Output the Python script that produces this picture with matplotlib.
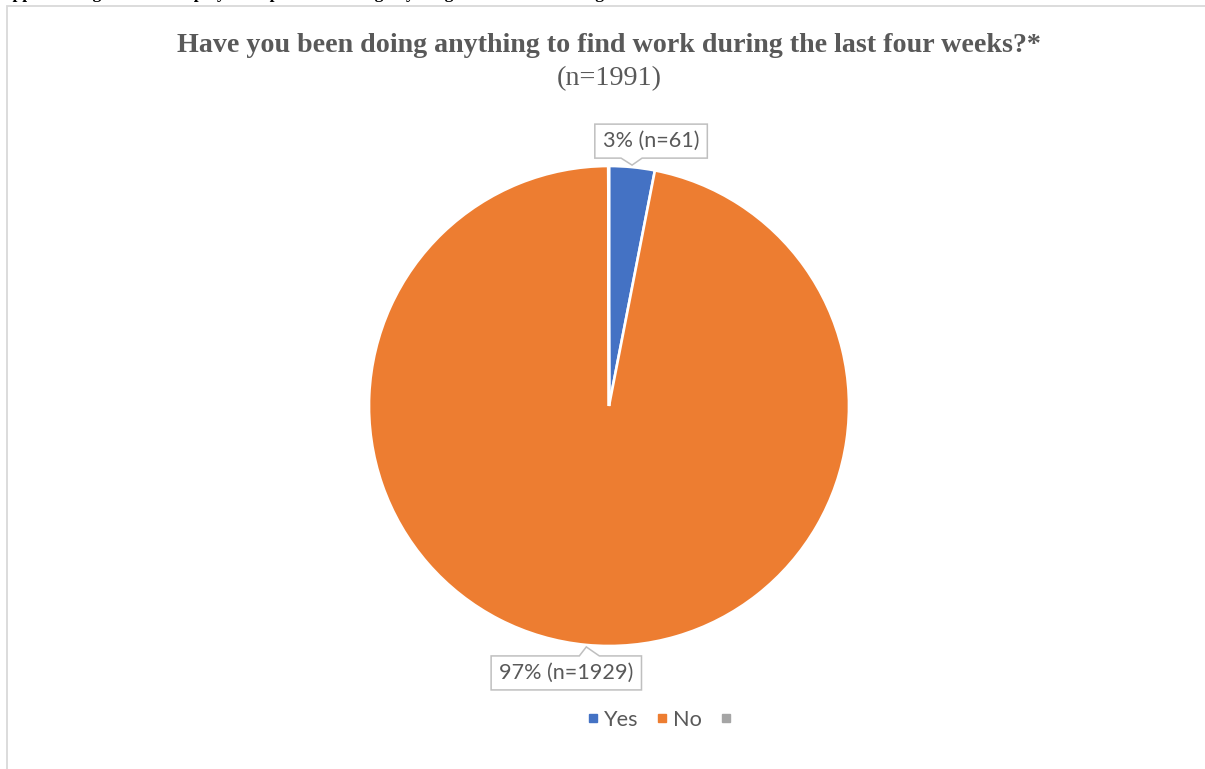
import numpy as np
import matplotlib
matplotlib.use("Agg")
import matplotlib.pyplot as plt
from matplotlib.patches import Polygon, Rectangle
from matplotlib.lines import Line2D

# survey responses
categories = ["Yes", "No", ""]
counts = [61, 1929, 1]
colors = ["#4472C4", "#ED7D31", "#A5A5A5"]
title = "Have you been doing anything to find work during the last four weeks?*"
subtitle = "(n=1991)"
header = "Appendix Figure 5: Unemployed respondents doing anything to find work during the last four weeks"

W, H = 1205, 769
fig = plt.figure(figsize=(W / 100, H / 100), dpi=100)
fig.patch.set_facecolor("white")
ax = fig.add_axes([0, 0, 1, 1])

cx, cy, R = 609, H - 406, 240
total = sum(counts)
wedges, _ = ax.pie(counts, colors=colors, startangle=90, counterclock=False,
                   center=(cx, cy), radius=R, frame=True,
                   wedgeprops=dict(edgecolor="white", linewidth=1.9))
ax.set_xlim(0, W)
ax.set_ylim(0, H)
ax.set_aspect("equal")
ax.axis("off")

# chart frame
ax.add_patch(Rectangle((7, -20), W + 20, H - 6 + 20, fill=False,
                       edgecolor="#D9D9D9", linewidth=1.3, zorder=0))

# heading of the page, cropped by the top edge
ax.text(0, H + 2.5, header, family="Liberation Serif", fontweight="bold",
        fontsize=12.5, color="black", ha="left", va="baseline", clip_on=False)

ax.text(cx, H - 46, title, family="Liberation Serif", fontweight="bold",
        fontsize=20.2, color="#595959", ha="center", va="center")
ax.text(cx, H - 79, subtitle, family="Liberation Serif",
        fontsize=20.3, color="#595959", ha="center", va="center")

# callout labels for the named slices
label_offsets = {0: (19, 26), 1: (-20, -28)}
fig.canvas.draw()
renderer = fig.canvas.get_renderer()
for i, w in enumerate(wedges):
    if i not in label_offsets:
        continue
    mid = np.deg2rad((w.theta1 + w.theta2) / 2)
    tx, ty = cx + R * np.cos(mid), cy + R * np.sin(mid)
    dx, dy = label_offsets[i]
    lx, ly = tx + dx, ty + dy
    txt = f"{round(100 * counts[i] / total)}% (n={counts[i]})"
    t = ax.text(lx, ly, txt, family="Lato", fontsize=15.6, color="#595959",
                ha="center", va="center", zorder=5)
    bb = t.get_window_extent(renderer)
    padx, pady = 8, 8
    x0, x1 = bb.x0 - padx, bb.x1 + padx
    y0, y1 = ly - bb.height / 2 - pady + 1, ly + bb.height / 2 + pady - 1
    if dy > 0:
        pts = [(x0, y0), (tx - 11, y0), (tx, ty + 2), (tx + 10, y0), (x1, y0),
               (x1, y1), (x0, y1)]
    else:
        pts = [(x0, y0), (x1, y0), (x1, y1), (tx + 13, y1), (tx, ty - 2),
               (tx - 7, y1), (x0, y1)]
    ax.add_patch(Polygon(pts, closed=True, facecolor="white",
                         edgecolor="#BFBFBF", linewidth=1.1, zorder=4))

handles = [Line2D([], [], marker="s", linestyle="none", markersize=6,
                  markerfacecolor=c, markeredgecolor=c) for c in colors]
leg = ax.legend(handles, categories, loc="center", bbox_to_anchor=(662 / W, 49 / H),
                ncol=3, frameon=False, handlelength=0.5, handletextpad=0.25,
                columnspacing=0.85, borderpad=0, prop=dict(family="Lato", size=15.6))
for t in leg.get_texts():
    t.set_color("#595959")

fig.savefig("out.png", dpi=100, facecolor="white")
